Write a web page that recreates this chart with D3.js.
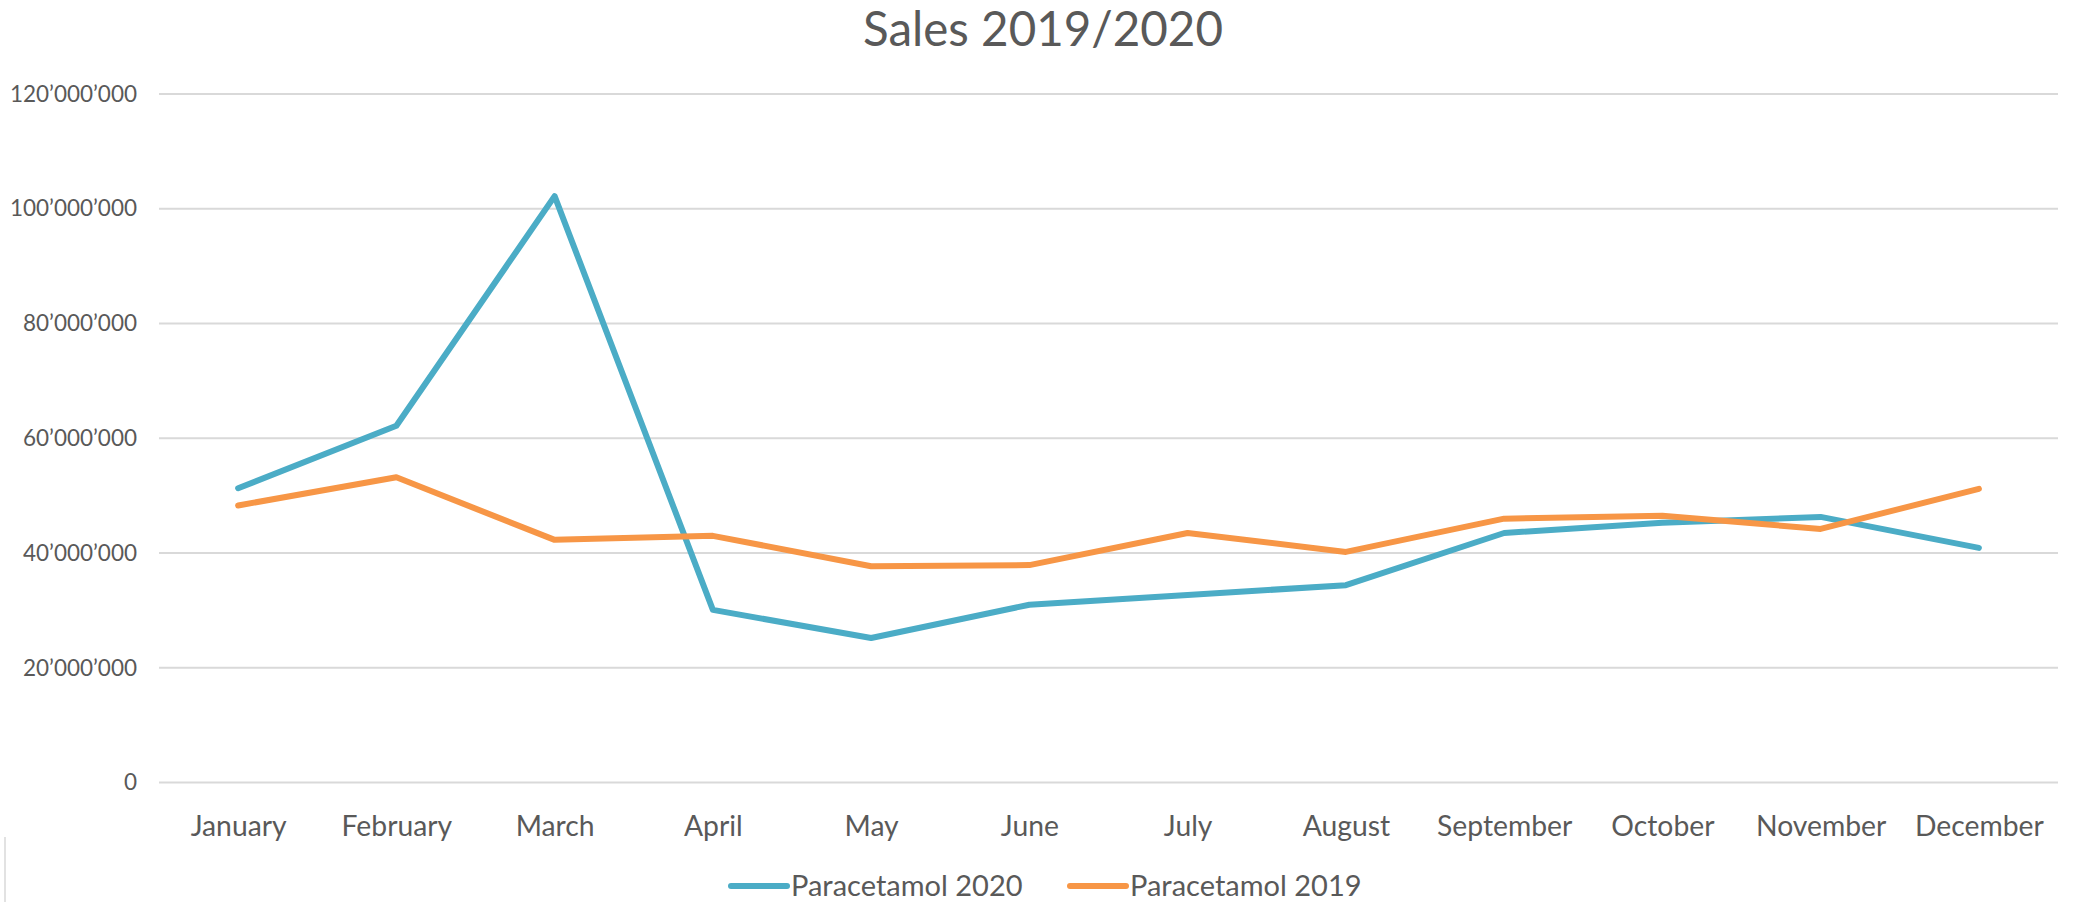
<!DOCTYPE html>
<html>
<head>
<meta charset="utf-8">
<script src="https://cdn.jsdelivr.net/npm/d3@7"></script>
<style>
  html, body { margin: 0; padding: 0; background: #ffffff; }
  svg { display: block; }
  text { font-family: Lato, "Open Sans", sans-serif; fill: #595959; }
</style>
</head>
<body>
<svg id="chart" width="2080" height="902"></svg>
<script>
// ---- data ----
const months = ["January","February","March","April","May","June","July","August","September","October","November","December"];
const paracetamol2020 = [51.3e6, 62.2e6, 102.2e6, 30.1e6, 25.2e6, 31.0e6, 32.7e6, 34.4e6, 43.5e6, 45.3e6, 46.3e6, 40.9e6];
const paracetamol2019 = [48.3e6, 53.2e6, 42.3e6, 43.0e6, 37.7e6, 37.9e6, 43.5e6, 40.2e6, 46.0e6, 46.5e6, 44.2e6, 51.2e6];
const yTicks = [0, 20e6, 40e6, 60e6, 80e6, 100e6, 120e6];
const seriesNames = ["Paracetamol 2020", "Paracetamol 2019"];
const seriesColors = ["#4BACC6", "#F79646"];
const title = "Sales 2019/2020";

const series = [
  { name: seriesNames[0], values: paracetamol2020, color: seriesColors[0] },
  { name: seriesNames[1], values: paracetamol2019, color: seriesColors[1] }
];

// ---- layout ----
const plot = { left: 159, right: 2058, top: 94, bottom: 782.6 };

const svg = d3.select("#chart");

const x = d3.scalePoint().domain(months).range([plot.left, plot.right]).padding(0.5);
const y = d3.scaleLinear().domain([0, 120e6]).range([plot.bottom, plot.top]);

const loc = d3.formatLocale({ decimal: ".", thousands: "\u2019", grouping: [3], currency: ["", ""] });
const fmt = loc.format(",");

// gridlines
svg.append("g")
  .selectAll("line")
  .data(yTicks)
  .join("line")
  .attr("x1", plot.left).attr("x2", plot.right)
  .attr("y1", d => y(d)).attr("y2", d => y(d))
  .attr("stroke", "#d9d9d9").attr("stroke-width", 2);

// y axis labels
const yAxis = d3.axisLeft(y).tickValues(yTicks).tickFormat(fmt).tickSize(0).tickPadding(22);
const gy = svg.append("g").attr("transform", `translate(${plot.left},0)`).call(yAxis);
gy.select(".domain").remove();
gy.selectAll("text").attr("font-size", 22.5).style("font-family", "Lato").attr("fill", "#595959");

// x axis labels
const xAxis = d3.axisBottom(x).tickSize(0).tickPadding(0);
const gx = svg.append("g").attr("transform", `translate(0,${plot.bottom})`).call(xAxis);
gx.select(".domain").remove();
gx.selectAll("text").attr("font-size", 28.3).attr("dy", null).attr("y", 53).style("font-family", "Lato").attr("fill", "#595959");

// lines
const line = d3.line().x((d, i) => x(months[i])).y(d => y(d));
svg.append("g")
  .selectAll("path")
  .data(series)
  .join("path")
  .attr("d", d => line(d.values))
  .attr("fill", "none")
  .attr("stroke", d => d.color)
  .attr("stroke-width", 6)
  .attr("stroke-linejoin", "round")
  .attr("stroke-linecap", "round");

// title
svg.append("text")
  .attr("x", 1043).attr("y", 46)
  .attr("text-anchor", "middle")
  .attr("font-size", 47.5)
  .text(title);

// legend
const legend = svg.append("g");
const legX = [731, 1070];
series.forEach((s, i) => {
  const g = legend.append("g").attr("transform", `translate(${legX[i]},886)`);
  g.append("line").attr("x1", 0).attr("x2", 56).attr("y1", 0).attr("y2", 0)
    .attr("stroke", s.color).attr("stroke-width", 6).attr("stroke-linecap", "round");
  g.append("text").attr("x", 60).attr("y", 10).attr("font-size", 29).text(s.name);
});

// chart-area border remnant at bottom-left
svg.append("line").attr("x1", 5).attr("x2", 5).attr("y1", 837).attr("y2", 902)
  .attr("stroke", "#d9d9d9").attr("stroke-width", 1.5);
</script>
</body>
</html>
